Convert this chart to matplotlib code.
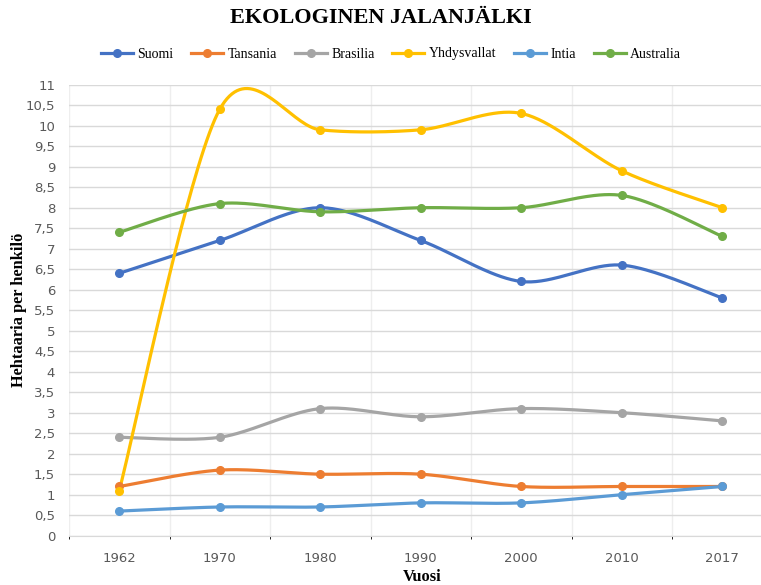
import numpy as np
import matplotlib
matplotlib.use("Agg")
import matplotlib.pyplot as plt
from matplotlib.ticker import FuncFormatter

years = ["1962", "1970", "1980", "1990", "2000", "2010", "2017"]
suomi = [6.4, 7.2, 8.0, 7.2, 6.2, 6.6, 5.8]
tansania = [1.2, 1.6, 1.5, 1.5, 1.2, 1.2, 1.2]
brasilia = [2.4, 2.4, 3.1, 2.9, 3.1, 3.0, 2.8]
yhdysvallat = [1.1, 10.4, 9.9, 9.9, 10.3, 8.9, 8.0]
intia = [0.6, 0.7, 0.7, 0.8, 0.8, 1.0, 1.2]
australia = [7.4, 8.1, 7.9, 8.0, 8.0, 8.3, 7.3]

series = [("Suomi", suomi, "#4472C4"),
          ("Tansania", tansania, "#ED7D31"),
          ("Brasilia", brasilia, "#A5A5A5"),
          ("Yhdysvallat", yhdysvallat, "#FFC000"),
          ("Intia", intia, "#5B9BD5"),
          ("Australia", australia, "#70AD47")]


def smooth(x, y, n=40):
    # catmull-rom style bezier, like Excel's smoothed line
    x = np.asarray(x, float)
    y = np.asarray(y, float)
    px = np.concatenate([[x[0]], x, [x[-1]]])
    py = np.concatenate([[y[0]], y, [y[-1]]])
    xs, ys = [], []
    t = np.linspace(0, 1, n)
    for i in range(len(x) - 1):
        p0 = np.array([px[i + 1], py[i + 1]])
        p3 = np.array([px[i + 2], py[i + 2]])
        p1 = p0 + (np.array([px[i + 2], py[i + 2]]) - np.array([px[i], py[i]])) / 6.5
        p2 = p3 - (np.array([px[i + 3], py[i + 3]]) - np.array([px[i + 1], py[i + 1]])) / 6.5
        b = ((1 - t) ** 3)[:, None] * p0 + (3 * (1 - t) ** 2 * t)[:, None] * p1 \
            + (3 * (1 - t) * t ** 2)[:, None] * p2 + (t ** 3)[:, None] * p3
        xs.extend(b[:, 0])
        ys.extend(b[:, 1])
    return xs, ys


fig = plt.figure(figsize=(7.61, 5.85), dpi=100)
ax = fig.add_axes([69 / 761, 0.0843, 1 - 69 / 761, 0.7709])

xi = np.arange(len(years))
handles = []
for name, vals, col in series:
    sx, sy = smooth(xi, vals)
    ax.plot(sx, sy, color=col, lw=2.3, solid_capstyle="round", zorder=3)
    ax.plot(xi, vals, "o", color=col, ms=5.5, zorder=4)
    h, = ax.plot([], [], color=col, lw=2.3, marker="o", ms=5.5)
    handles.append(h)

ax.set_yticks(np.arange(0, 11.01, 0.5))
ax.yaxis.set_major_formatter(FuncFormatter(lambda v, p: ("%g" % v).replace(".", ",")))
ax.set_xticks(xi)
ax.set_xticklabels(years)
ax.set_xticks(np.arange(-0.5, 7, 0.5), minor=True)
ax.set_xlim(-0.5, -0.5 + (761 - 69) / 100.5)
ax.set_ylim(0, 11)
ax.tick_params(axis="both", length=0, labelsize=9.5, labelcolor="#595959")
ax.tick_params(axis="x", pad=12)
ax.tick_params(axis="y", pad=10)
ax.grid(axis="y", color="#d9d9d9", lw=1)
ax.grid(axis="x", which="minor", color="#eeeeee", lw=1)
ax.set_axisbelow(True)
for s in ["top", "right", "left"]:
    ax.spines[s].set_visible(False)
ax.spines["bottom"].set_color("#d9d9d9")

ax.set_xlabel("Vuosi", family="Liberation Serif", fontweight="bold", fontsize=11.8, va="center")
ax.xaxis.set_label_coords((422 - 69) / 692, -0.0916)
ax.set_ylabel("Hehtaaria per henkilö", family="Liberation Serif", fontweight="bold", fontsize=11.8, va="center")
ax.yaxis.set_label_coords((19 - 69) / 692, 0.5)

fig.text(0.5, 1 - 18 / 585, "EKOLOGINEN JALANJÄLKI", ha="center", va="center",
         family="Liberation Serif", fontweight="bold", fontsize=16)

fig.legend(handles, [s[0] for s in series], loc="center", bbox_to_anchor=(391 / 761, 1 - 54 / 585),
           ncol=6, frameon=False, prop={"family": "Liberation Serif", "size": 10},
           handlelength=2.3, handletextpad=0.3, columnspacing=1.3)

fig.savefig("out.png", dpi=100)
